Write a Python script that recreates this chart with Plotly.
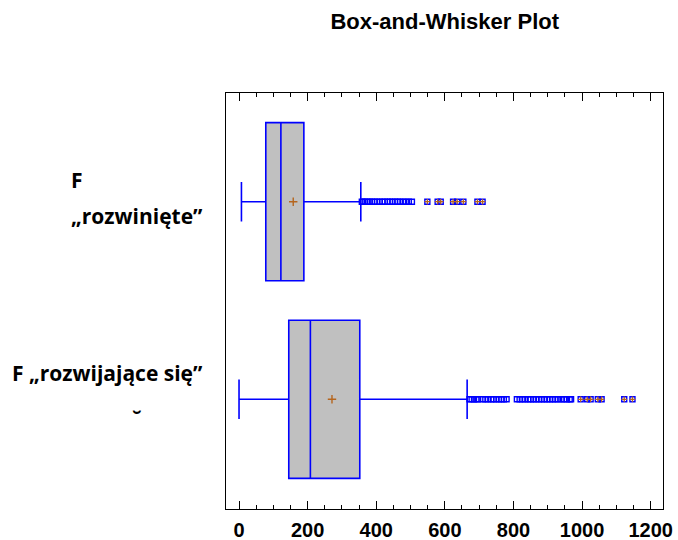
import plotly.graph_objects as go

# ── data ─────────────────────────────────────────────────
GROUPS  = ["F „rozwinięte”", "F „rozwijające się”"]
LOW     = [7, 0]
Q1      = [78, 145]
MEDIAN  = [122, 208]
Q3      = [189, 352]
HIGH    = [355, 665]
MEAN    = [158, 271]
OUTLIERS = [
    [358, 362, 368, 375, 381, 388, 395, 402, 410, 418, 425, 433, 440, 447,
     455, 462, 469, 478, 486, 495, 504,
     549, 579, 588, 624, 636, 654, 695, 710],
    [672, 678, 685, 692, 697, 710, 718, 726, 735, 742, 750, 758, 765, 772,
     780, 810, 818, 826, 834, 843, 850, 858, 866, 874, 882, 890, 898, 906,
     914, 922, 930, 940, 948, 956, 964, 968,
     996, 1015, 1025, 1046, 1057, 1123, 1147],
]
X_TICKS = [0, 200, 400, 600, 800, 1000, 1200]

BLUE  = "#0000FF"
GRAY  = "#C0C0C0"
BROWN = "#B5651D"
FONT  = "Liberation Sans, Arial, sans-serif"
LABEL_FONT = "Open Sans, Lato, sans-serif"

fig = go.Figure()

n = len(GROUPS)
for i, name in enumerate(GROUPS):
    pos = n - 1 - i   # first group on top
    fig.add_trace(go.Box(
        y=[pos], q1=[Q1[i]], median=[MEDIAN[i]], q3=[Q3[i]],
        lowerfence=[LOW[i]], upperfence=[HIGH[i]],
        orientation="h", width=0.8, whiskerwidth=0.25,
        fillcolor=GRAY, line=dict(color=BLUE, width=1.6),
        boxpoints=False, showlegend=False, name=name))

    # outliers: > 3 IQR marked with a plus inside
    far = Q3[i] + 3 * (Q3[i] - Q1[i])
    fig.add_trace(go.Scatter(
        x=OUTLIERS[i], y=[pos] * len(OUTLIERS[i]), mode="markers",
        marker=dict(symbol="square-open", size=5, color=BLUE, line=dict(width=1.4)),
        showlegend=False, hoverinfo="x"))
    far_pts = [v for v in OUTLIERS[i] if v > far]
    fig.add_trace(go.Scatter(
        x=far_pts, y=[pos] * len(far_pts), mode="markers",
        marker=dict(symbol="cross-thin", size=4, color=BROWN, line=dict(width=1.3, color=BROWN)),
        showlegend=False, hoverinfo="skip"))

    # mean
    fig.add_trace(go.Scatter(
        x=[MEAN[i]], y=[pos], mode="markers",
        marker=dict(symbol="cross-thin", size=6, color=BROWN, line=dict(width=1.4, color=BROWN)),
        showlegend=False, hoverinfo="x"))

# category labels (annotations, to match the odd line layout)
LBL = dict(xref="paper", yref="y", x=0, showarrow=False,
           font=dict(family=LABEL_FONT, size=21, color="black", weight="bold"))
top, bot = n - 1, 0
fig.add_annotation(text="F", y=top, xanchor="left", xshift=-157, yshift=22, **LBL)
fig.add_annotation(text="„rozwinięte”", y=top, xanchor="right", xshift=-21, yshift=-14, **LBL)
fig.add_annotation(text=GROUPS[1], y=bot, xanchor="right", xshift=-21, yshift=26, **LBL)
fig.add_annotation(text="˘", y=bot, xanchor="center", xshift=-89, yshift=-20, **LBL)

fig.update_layout(
    width=678, height=540,
    margin=dict(l=226, r=15, t=93, b=31),
    plot_bgcolor="white", paper_bgcolor="white",
    title=dict(text="<b>Box-and-Whisker Plot</b>", x=0.656, xref="container",
               y=0.961, yref="container", xanchor="center", yanchor="middle",
               font=dict(family=FONT, size=22, color="black")),
    font=dict(family=FONT, color="black"),
)

fig.update_xaxes(
    range=[-38, 1236], tickvals=X_TICKS,
    ticktext=[f"<b>{v}</b>" for v in X_TICKS],
    tickfont=dict(family=FONT, size=20, color="black"),
    ticks="inside", ticklen=8, tickcolor="black", tickwidth=1, ticklabelstandoff=3,
    minor=dict(dtick=50, tick0=0, ticks="inside", ticklen=4, tickcolor="black"),
    showline=True, linecolor="black", linewidth=1, mirror="ticks",
    showgrid=False, zeroline=False, automargin=False)
fig.update_yaxes(
    range=[-0.555, 1.55], showticklabels=False, ticks="",
    showline=True, linecolor="black", linewidth=1, mirror=True,
    showgrid=False, zeroline=False, automargin=False)

# drop the default 8px page margin so the figure fills the window exactly
fig.write_html("out.html", config={"displayModeBar": False},
               post_script="document.body.style.margin='0';")
